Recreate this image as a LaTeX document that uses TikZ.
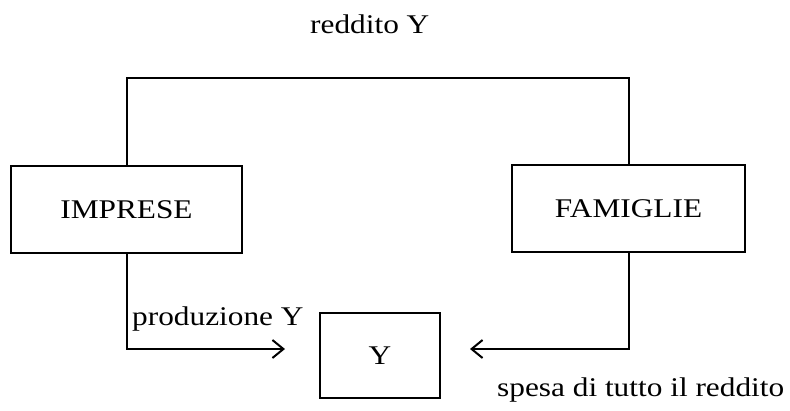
\documentclass[tikz,border=0pt]{standalone}
\usepackage{fontspec}
\setmainfont[FakeStretch=1.16]{Liberation Serif}
\usetikzlibrary{arrows.meta}

\tikzset{
  settore/.style={draw,line width=1.6pt,minimum width=231pt,minimum height=87pt,font=\fontsize{27}{31}\selectfont},
  flusso/.style={line width=2pt},
  etichetta/.style={font=\fontsize{27}{31}\selectfont,inner sep=0pt,anchor=base west}
}

\begin{document}
\begin{tikzpicture}[x=1pt,y=-1pt]
\useasboundingbox (0,0) rectangle (790,410);

% Sectors
\node[settore] (imprese) at (126.5,209.5) {IMPRESE};
\node[settore,minimum width=233pt] (famiglie) at (628.5,208.5) {FAMIGLIE};
\node[settore,minimum width=120pt,minimum height=85pt] (prodotto) at (380,355.5) {Y};

% Income flow
\coordinate (alto) at (0,78);
\draw[flusso] (imprese.north) -- (imprese.north |- alto) -| (famiglie.north);
\node[etichetta] (reddito) at (310,33) {reddito Y};

% Production and spending
\coordinate (entrata) at (285,349);
\coordinate (uscita) at (470,349);
\draw[flusso,-{Straight Barb[length=11pt,width=18pt]}] (imprese.south) |- (entrata);
\draw[flusso,-{Straight Barb[length=11pt,width=18pt]}] (famiglie.south) |- (uscita);
\node[etichetta] (produzione) at (132,325) {produzione Y};
\node[etichetta] (spesa) at (497,396) {spesa di tutto il reddito};
\end{tikzpicture}
\end{document}
